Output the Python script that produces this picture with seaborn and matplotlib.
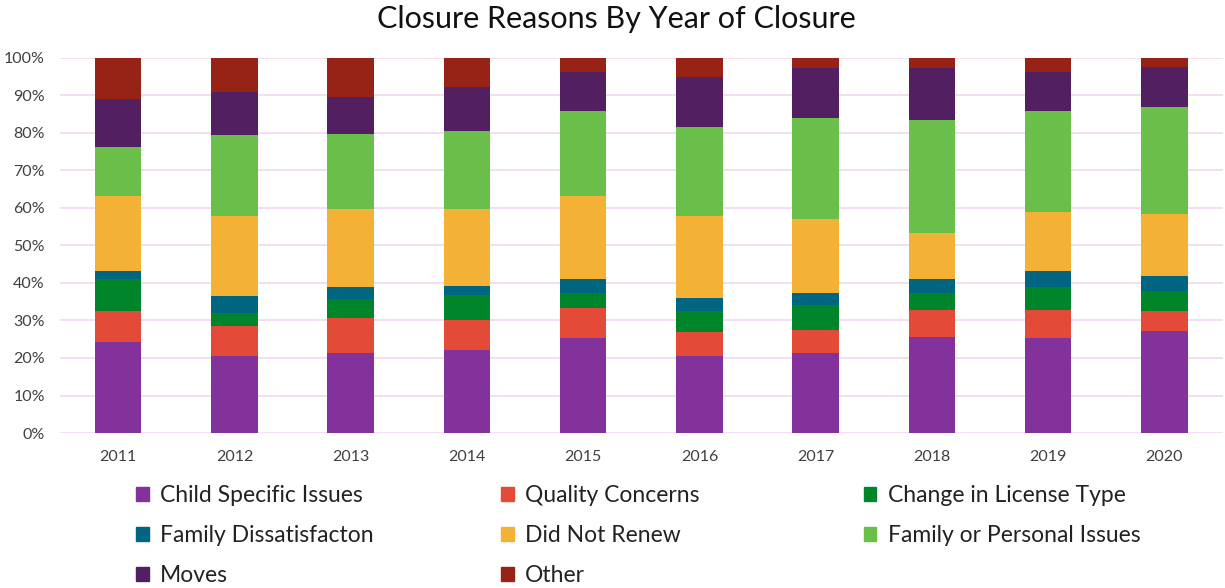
import seaborn as sns
import matplotlib.pyplot as plt
import numpy as np
import pandas as pd

years = ['2011', '2012', '2013', '2014', '2015', '2016', '2017', '2018', '2019', '2020']
reasons = ['Child Specific Issues', 'Quality Concerns', 'Change in License Type',
           'Family Dissatisfacton', 'Did Not Renew', 'Family or Personal Issues',
           'Moves', 'Other']
colors = ['#84329B', '#E34A37', '#00852A', '#006580', '#F3B135', '#6ABF4B', '#522061', '#962315']

# percent of closures per year
child = [24.3, 20.4, 21.2, 22.1, 25.3, 20.4, 21.2, 25.7, 25.3, 27.1]
quality = [8.1, 8.2, 9.5, 7.9, 7.9, 6.4, 6.3, 7.2, 7.6, 5.3]
license_change = [8.7, 3.5, 5.0, 6.7, 4.2, 5.6, 6.7, 4.3, 6.0, 5.5]
dissatisfaction = [2.2, 4.3, 3.2, 2.5, 3.7, 3.7, 3.0, 3.9, 4.4, 3.9]
not_renew = [19.8, 21.4, 20.9, 20.4, 22.0, 21.7, 19.9, 12.1, 15.5, 16.7]
personal = [13.2, 21.7, 19.9, 20.9, 22.8, 23.8, 27.0, 30.2, 27.1, 28.4]
moves = [12.8, 11.3, 9.8, 11.8, 10.3, 13.2, 13.1, 13.8, 10.3, 10.7]
other = [10.9, 9.2, 10.5, 7.7, 3.8, 5.2, 2.8, 2.8, 3.8, 2.4]


def build_df():
    df = pd.DataFrame({'year': years})
    for name, vals in zip(reasons, [child, quality, license_change, dissatisfaction,
                                    not_renew, personal, moves, other]):
        df[name] = vals
    tot = df[reasons].sum(axis=1)
    df[reasons] = df[reasons].div(tot, axis=0)
    cum = df[reasons].cumsum(axis=1)
    cum['year'] = df['year']
    return cum


def plot_stacked():
    cum = build_df()
    sns.set_style('white')
    plt.rcParams['font.family'] = ['Lato', 'DejaVu Sans']

    fig = plt.figure(figsize=(12.25, 5.88), dpi=100)
    ax = fig.add_axes([0.049, 0.2636, 0.949, 0.6378])

    # draw tallest cumulative first so smaller ones sit on top
    for name, col in reversed(list(zip(reasons, colors))):
        sns.barplot(data=cum, x='year', y=name, color=col, saturation=1,
                    width=0.4, errorbar=None, linewidth=0, ax=ax, zorder=3)

    ax.set_ylim(0, 1)
    ax.set_xlim(-0.5, 9.5)
    ax.set_yticks(np.arange(0, 1.01, 0.1))
    ax.set_yticklabels([f'{int(round(v * 100))}%' for v in np.arange(0, 1.01, 0.1)])
    ax.yaxis.grid(True, color='#F0DAF0', linewidth=1.2, zorder=0)
    ax.set_axisbelow(True)
    for s in ax.spines.values():
        s.set_visible(False)
    ax.tick_params(axis='both', length=0, labelsize=11.5, colors='#404040')
    ax.tick_params(axis='x', pad=12)
    ax.tick_params(axis='y', pad=11)
    ax.set_xlabel('')
    ax.set_ylabel('')

    fig.text(0.503, 0.968, 'Closure Reasons By Year of Closure', ha='center', va='center',
             fontsize=22, color='#111111')

    handles = [plt.Rectangle((0, 0), 1, 1, color=c) for c in colors]
    col_x = [0.111, 0.409, 0.705]
    groups = [[0, 3, 6], [1, 4, 7], [2, 5]]
    for x0, g in zip(col_x, groups):
        fig.legend([handles[i] for i in g], [reasons[i] for i in g],
                   loc='upper left', bbox_to_anchor=(x0, 0.175), ncol=1, frameon=False,
                   fontsize=16.5, handlelength=0.55, handleheight=0.55, handletextpad=0.5,
                   labelspacing=0.83, borderaxespad=0, borderpad=0, labelcolor='#222222')
    return fig


if __name__ == "__main__":
    fig = plot_stacked()
    fig.savefig('out.png', dpi=100)
